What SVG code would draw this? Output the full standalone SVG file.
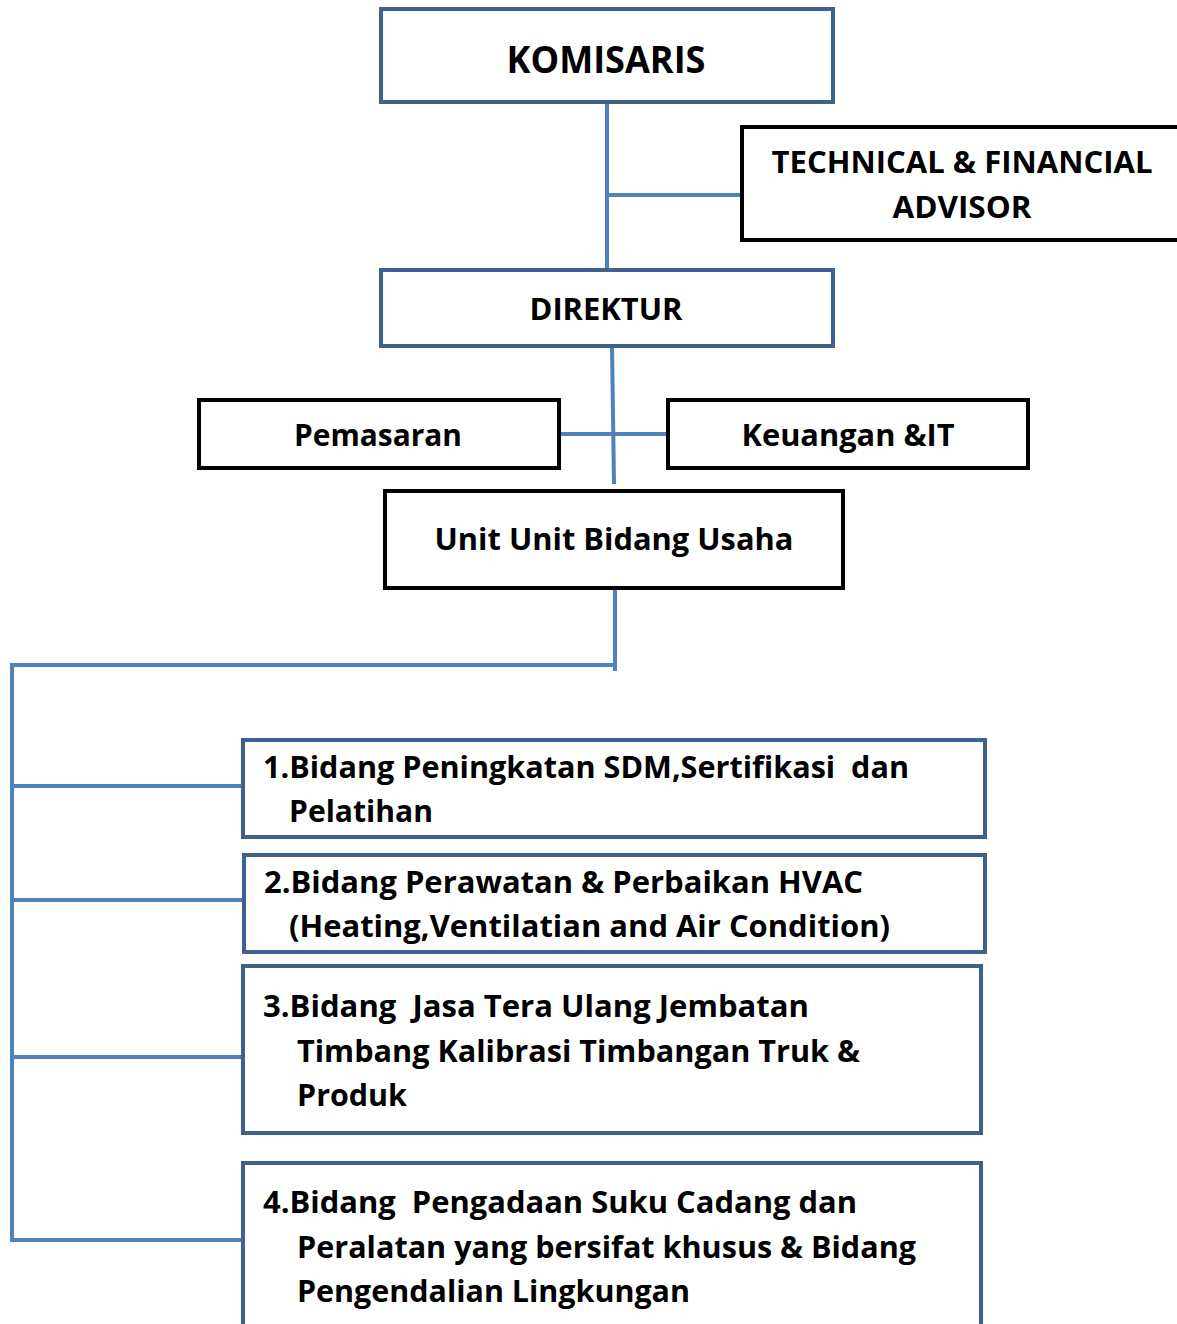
<svg xmlns="http://www.w3.org/2000/svg" width="1177" height="1324" viewBox="0 0 1177 1324">
<style>
.bb{fill:#fff;stroke:#3d6190;stroke-width:4}
.kb{fill:#fff;stroke:#000;stroke-width:4}
.t{font-family:"Open Sans","Noto Sans",sans-serif;font-weight:bold;fill:#000;font-size:30px;white-space:pre}
.big{font-size:37px}
.c{text-anchor:middle}
.ln{stroke:#4f81bd;stroke-width:4;fill:none}
</style>
<rect width="1177" height="1324" fill="#fff"/>
<g id="connectors">
<line class="ln" x1="607" y1="102" x2="607" y2="270"/>
<line class="ln" x1="607" y1="195" x2="742" y2="195"/>
<line class="ln" x1="612" y1="346" x2="614" y2="484"/>
<line class="ln" x1="559" y1="434" x2="668" y2="434"/>
<line class="ln" x1="615" y1="588" x2="615" y2="671"/>
<polyline class="ln" points="615,665 12,665 12,1242"/>
<line class="ln" x1="12" y1="786" x2="243" y2="786"/>
<line class="ln" x1="12" y1="900" x2="244" y2="900"/>
<line class="ln" x1="12" y1="1057" x2="243" y2="1057"/>
<line class="ln" x1="12" y1="1240" x2="243" y2="1240"/>
</g>
<g id="komisaris">
<rect class="bb" x="381" y="9" width="452" height="93"/>
<text class="t c big" x="606" y="73" textLength="199" lengthAdjust="spacingAndGlyphs">KOMISARIS</text>
</g>
<g id="advisor">
<rect class="kb" x="742" y="127" width="445" height="113"/>
<text class="t c" x="962" y="173" textLength="381" lengthAdjust="spacingAndGlyphs">TECHNICAL &amp; FINANCIAL</text>
<text class="t c" x="962" y="218" textLength="139" lengthAdjust="spacingAndGlyphs">ADVISOR</text>
</g>
<g id="direktur">
<rect class="bb" x="381" y="270" width="452" height="76"/>
<text class="t c" x="606" y="320" textLength="153" lengthAdjust="spacingAndGlyphs">DIREKTUR</text>
</g>
<g id="pemasaran">
<rect class="kb" x="199" y="400" width="360" height="68"/>
<text class="t c" x="378" y="446" textLength="168" lengthAdjust="spacingAndGlyphs">Pemasaran</text>
</g>
<g id="keuangan">
<rect class="kb" x="668" y="400" width="360" height="68"/>
<text class="t c" x="848" y="446" textLength="213" lengthAdjust="spacingAndGlyphs">Keuangan &amp;IT</text>
</g>
<g id="unit">
<rect class="kb" x="385" y="491" width="458" height="97"/>
<text class="t c" x="614" y="550" textLength="359" lengthAdjust="spacingAndGlyphs">Unit Unit Bidang Usaha</text>
</g>
<g id="bidang1">
<rect class="bb" x="243" y="740" width="742" height="97"/>
<text class="t" x="263" y="778" textLength="646" lengthAdjust="spacingAndGlyphs">1.Bidang Peningkatan SDM,Sertifikasi  dan</text>
<text class="t" x="289" y="822" textLength="144" lengthAdjust="spacingAndGlyphs">Pelatihan</text>
</g>
<g id="bidang2">
<rect class="bb" x="244" y="855" width="741" height="97"/>
<text class="t" x="264" y="893" textLength="599" lengthAdjust="spacingAndGlyphs">2.Bidang Perawatan &amp; Perbaikan HVAC</text>
<text class="t" x="289" y="937" textLength="601" lengthAdjust="spacingAndGlyphs">(Heating,Ventilatian and Air Condition)</text>
</g>
<g id="bidang3">
<rect class="bb" x="243" y="966" width="738" height="167"/>
<text class="t" x="263" y="1017" textLength="546" lengthAdjust="spacingAndGlyphs">3.Bidang  Jasa Tera Ulang Jembatan</text>
<text class="t" x="297" y="1062" textLength="563" lengthAdjust="spacingAndGlyphs">Timbang Kalibrasi Timbangan Truk &amp;</text>
<text class="t" x="297" y="1106" textLength="110" lengthAdjust="spacingAndGlyphs">Produk</text>
</g>
<g id="bidang4">
<rect class="bb" x="243" y="1163" width="738" height="175"/>
<text class="t" x="263" y="1213" textLength="594" lengthAdjust="spacingAndGlyphs">4.Bidang  Pengadaan Suku Cadang dan</text>
<text class="t" x="297" y="1258" textLength="619" lengthAdjust="spacingAndGlyphs">Peralatan yang bersifat khusus &amp; Bidang</text>
<text class="t" x="297" y="1302" textLength="393" lengthAdjust="spacingAndGlyphs">Pengendalian Lingkungan</text>
</g>
</svg>
